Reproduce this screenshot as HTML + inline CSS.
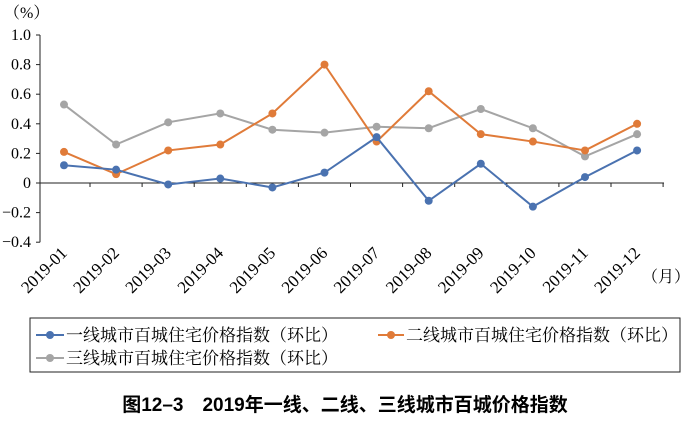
<!DOCTYPE html>
<html><head><meta charset="utf-8">
<style>
body{margin:0;background:#fff;}
svg text{font-family:"Liberation Serif","Noto Serif CJK SC",serif;}
</style></head>
<body>
<svg id="chart" width="688" height="420" xmlns="http://www.w3.org/2000/svg">
<g id="axes"></g><g id="marks"></g>
<g>
<rect x="30" y="318" width="650" height="54" fill="none" stroke="#222" stroke-width="1"/>
<g><line x1="36" y1="335" x2="64" y2="335" stroke="#4a72b0" stroke-width="2"/><circle cx="50" cy="335" r="4" fill="#4a72b0"/><text x="66" y="341" font-size="17">一线城市百城住宅价格指数（环比）</text></g>
<g><line x1="378" y1="335" x2="404" y2="335" stroke="#e07b39" stroke-width="2"/><circle cx="391" cy="335" r="4" fill="#e07b39"/><text x="406" y="341" font-size="17">二线城市百城住宅价格指数（环比）</text></g>
<g><line x1="36" y1="358" x2="64" y2="358" stroke="#a5a5a5" stroke-width="2"/><circle cx="50" cy="358" r="4" fill="#a5a5a5"/><text x="66" y="364" font-size="17">三线城市百城住宅价格指数（环比）</text></g>
</g>
<text x="345" y="411" text-anchor="middle" font-size="19" font-weight="bold" style="font-family:'Liberation Sans','Noto Sans CJK SC',sans-serif">图12–3　2019年一线、二线、三线城市百城价格指数</text>
<text x="4" y="18" font-size="16">（%）</text>
<text x="642" y="282" font-size="16">（月）</text>
</svg>
<script>
const categories=["2019-01","2019-02","2019-03","2019-04","2019-05","2019-06","2019-07","2019-08","2019-09","2019-10","2019-11","2019-12"];
const tier1=[0.12,0.09,-0.01,0.03,-0.03,0.07,0.31,-0.12,0.13,-0.16,0.04,0.22];
const tier2=[0.21,0.06,0.22,0.26,0.47,0.80,0.28,0.62,0.33,0.28,0.22,0.40];
const tier3=[0.53,0.26,0.41,0.47,0.36,0.34,0.38,0.37,0.50,0.37,0.18,0.33];
const yTicks=[1.0,0.8,0.6,0.4,0.2,0,-0.2,-0.4];
const yTickLabels=["1.0","0.8","0.6","0.4","0.2","0","−0.2","−0.4"];
const NS="http://www.w3.org/2000/svg";
const y=v=>183-v*148;
const x=i=>64+i*52.1;
const axes=document.getElementById('axes'),marks=document.getElementById('marks');
function mk(tag,attrs,parent){const e=document.createElementNS(NS,tag);for(const k in attrs)e.setAttribute(k,attrs[k]);parent.appendChild(e);return e;}
const ya=mk('line',{x1:40,y1:y(1),x2:40,y2:y(-0.4),stroke:'#222'},axes);


yTicks.forEach((v,i)=>{
 const t=mk('line',{x1:36,y1:y(v),x2:40,y2:y(v),stroke:'#222'},axes);
 
 
 const l=mk('text',{x:31,y:y(v)+5,'text-anchor':'end','font-size':16},axes);
 l.textContent=yTickLabels[i];
 
 
});
const xa=mk('line',{x1:40,y1:y(0),x2:664,y2:y(0),stroke:'#222'},axes);


categories.forEach((c,i)=>{
 const tx=x(i)+26;
 const t=mk('line',{x1:tx,y1:y(0),x2:tx,y2:y(0)+4,stroke:'#222'},axes);
 
 
 const lx=x(i)+4, ly=254;
 const l=mk('text',{x:lx,y:ly,'text-anchor':'end','font-size':17,transform:`rotate(-45 ${lx} ${ly})`},axes);
 l.textContent=c;
 
 
});
[[tier3,'#a5a5a5','tier3'],[tier2,'#e07b39','tier2'],[tier1,'#4a72b0','tier1']].forEach(([d,col,n])=>{
 const p=mk('polyline',{points:d.map((v,i)=>x(i)+','+y(v)).join(' '),fill:'none',stroke:col,'stroke-width':2},marks);
 
 
 d.forEach((v,i)=>{
  const c=mk('circle',{cx:x(i),cy:y(v),r:4,fill:col},marks);
  
  
 });
});
</script>
</body></html>
